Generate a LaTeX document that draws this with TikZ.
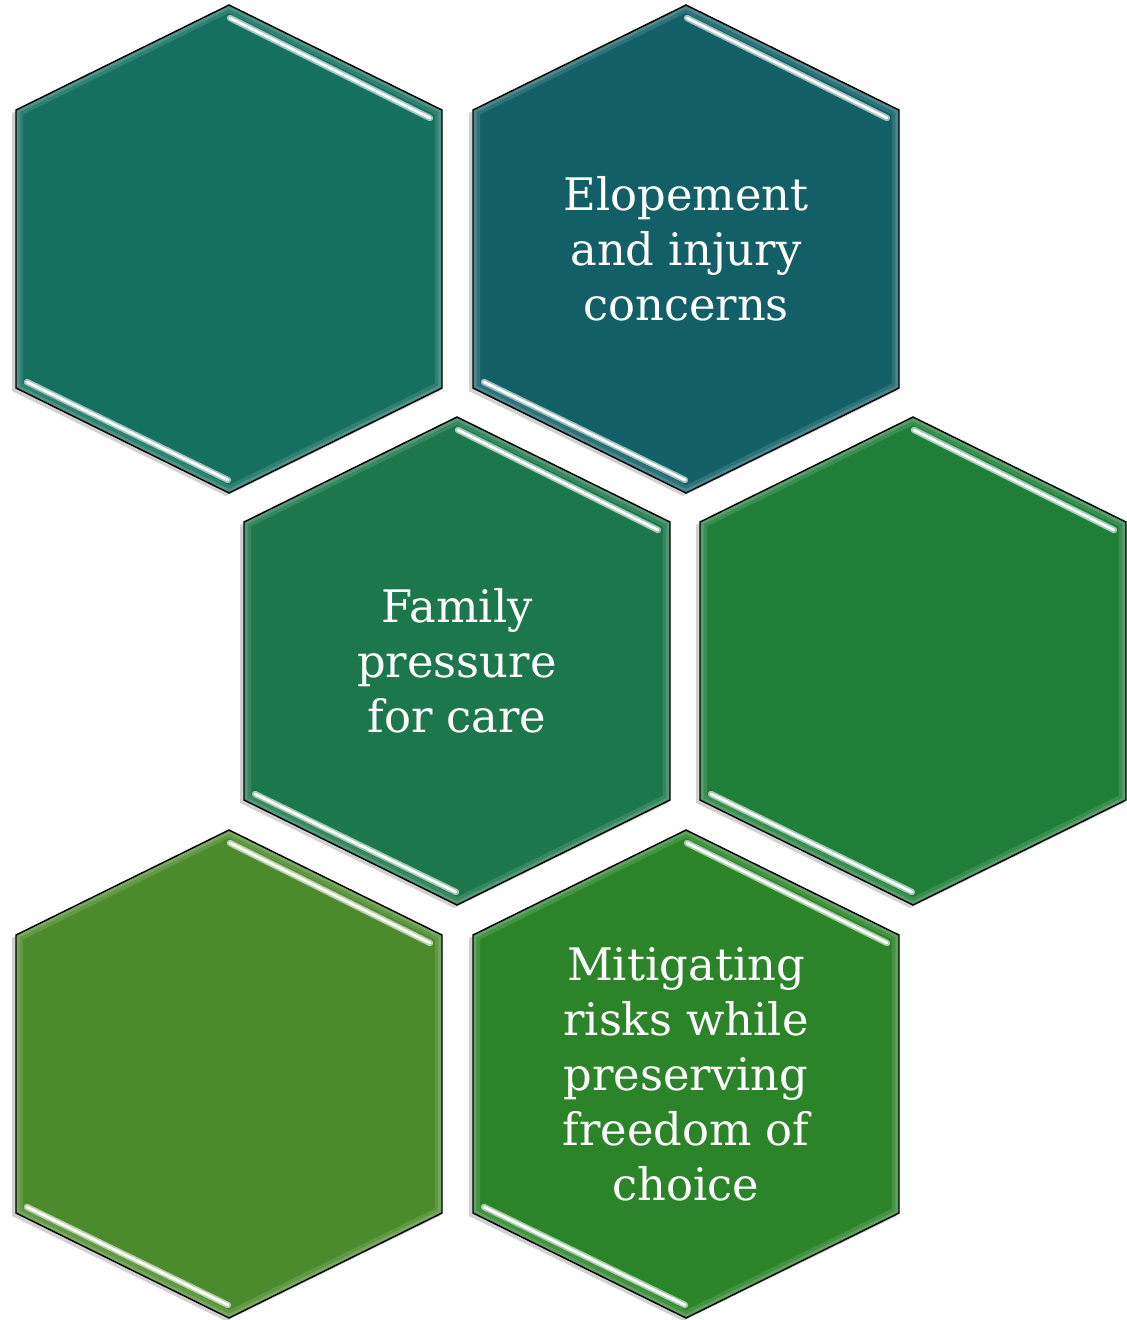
\documentclass[tikz,border=0pt]{standalone}
\usepackage{tikz}
\usepackage{fontspec}
\setmainfont{DejaVu Serif}
\usetikzlibrary{calc}
\definecolor{tealA}{RGB}{21,112,96}
\definecolor{tealB}{RGB}{18,95,103}
\definecolor{greenC}{RGB}{28,119,76}
\definecolor{greenD}{RGB}{31,127,57}
\definecolor{greenE}{RGB}{76,139,44}
\definecolor{greenF}{RGB}{43,132,42}

% one hexagon cell: #1 name, #2 colour, #3 centre
\newcommand{\hexcell}[3]{%
  \coordinate (#1) at #3;
  \fill[black, opacity=0.18] ($(#1)+(-3,-241)$) -- ($(#1)+(211,-136)$) -- ($(#1)+(211,142)$) -- ($(#1)+(-3,247)$) -- ($(#1)+(-217,142)$) -- ($(#1)+(-217,-136)$) -- cycle;
  \path[fill=#2] ($(#1)+(0,-244)$) -- ($(#1)+(213,-139)$) -- ($(#1)+(213,139)$) -- ($(#1)+(0,244)$) -- ($(#1)+(-213,139)$) -- ($(#1)+(-213,-139)$) -- cycle;
  \begin{scope}
    \clip ($(#1)+(0,-244)$) -- ($(#1)+(213,-139)$) -- ($(#1)+(213,139)$) -- ($(#1)+(0,244)$) -- ($(#1)+(-213,139)$) -- ($(#1)+(-213,-139)$) -- cycle;
    \draw[white, opacity=0.12, line width=8pt] ($(#1)+(0,-244)$) -- ($(#1)+(213,-139)$) -- ($(#1)+(213,139)$) -- ($(#1)+(0,244)$) -- ($(#1)+(-213,139)$) -- ($(#1)+(-213,-139)$) -- cycle;
    \draw[white, opacity=0.15, line width=4pt] ($(#1)+(0,-244)$) -- ($(#1)+(213,-139)$) -- ($(#1)+(213,139)$) -- ($(#1)+(0,244)$) -- ($(#1)+(-213,139)$) -- ($(#1)+(-213,-139)$) -- cycle;
  \end{scope}
  \draw[black, line width=0.8pt] ($(#1)+(0,-244)$) -- ($(#1)+(213,-139)$) -- ($(#1)+(213,139)$) -- ($(#1)+(0,244)$) -- ($(#1)+(-213,139)$) -- ($(#1)+(-213,-139)$) -- cycle;
  \draw[gleam, #2!40!white] ($(#1)+(1,-231)$) -- ($(#1)+(201,-131)$);
  \draw[gleam, #2!40!white] ($(#1)+(-202,133)$) -- ($(#1)+(-1,231)$);
  \draw[gleamcore] ($(#1)+(1,-231)$) -- ($(#1)+(201,-131)$);
  \draw[gleamcore] ($(#1)+(-202,133)$) -- ($(#1)+(-1,231)$);
}

\begin{document}
\begin{tikzpicture}[x=0.02cm, y=-0.02cm,
    gleam/.style={line width=3.6pt, line cap=round},
    gleamcore/.style={white, line width=1.6pt, line cap=round},
    celltext/.style={text=white, align=center, font=\fontsize{25.5}{31.3}\selectfont}]
  \useasboundingbox (0,0) rectangle (1127,1320);

  % top row
  \hexcell{hexa}{tealA}{(229,249)}
  \hexcell{hexb}{tealB}{(686,249)}
  % middle row
  \hexcell{hexc}{greenC}{(457,661)}
  \hexcell{hexd}{greenD}{(913,661)}
  % bottom row
  \hexcell{hexe}{greenE}{(229,1074)}
  \hexcell{hexf}{greenF}{(686,1074)}

  \node[celltext] (elope) at (hexb) {Elopement\\and injury\\concerns};
  \node[celltext] (family) at (hexc) {Family\\pressure\\for care};
  \node[celltext] (mitigate) at (hexf) {Mitigating\\risks while\\preserving\\freedom of\\choice};
\end{tikzpicture}
\end{document}
